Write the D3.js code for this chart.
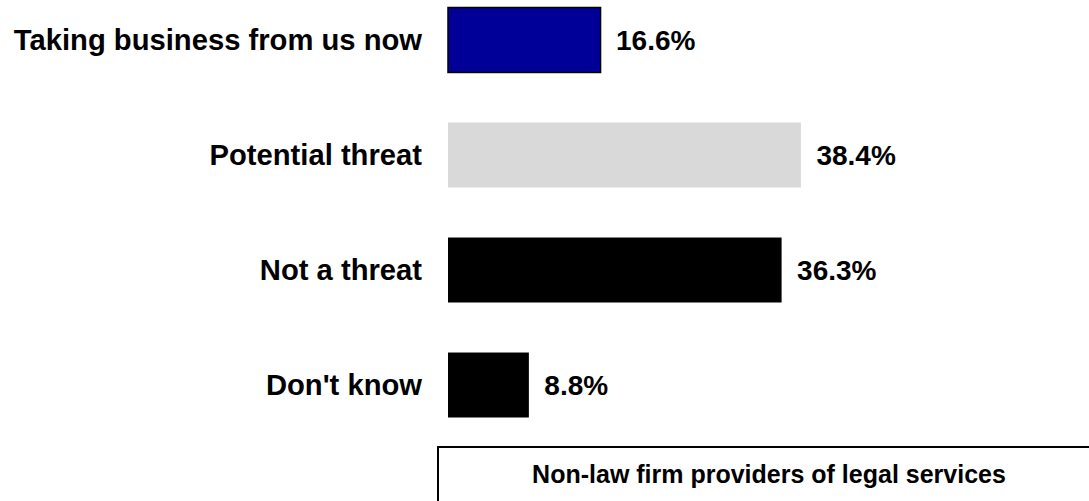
<!DOCTYPE html>
<html>
<head>
<meta charset="utf-8">
<script src="https://cdn.jsdelivr.net/npm/d3@7"></script>
<style>
  html, body { margin: 0; padding: 0; background: #ffffff; }
  svg { display: block; font-family: "Liberation Sans", Arial, Helvetica, sans-serif; }
</style>
</head>
<body>
<svg id="chart" width="1089" height="501"></svg>
<script>
// Survey responses: how firms see non-law firm providers of legal services
const categories = ["Taking business from us now", "Potential threat", "Not a threat", "Don't know"];
const values = [16.6, 38.4, 36.3, 8.8];
const barColors = ["#000099", "#d9d9d9", "#000000", "#000000"];
const valueLabels = ["16.6%", "38.4%", "36.3%", "8.8%"];
const groupTitle = "Non-law firm providers of legal services";

const svg = d3.select("#chart");

// Horizontal value scale (percent) and vertical category bands
const x = d3.scaleLinear().domain([0, 40]).range([448, 448 + 40 * 9.19]);
const y = d3.scaleBand()
  .domain(categories)
  .range([7.5, 417.5])
  .paddingInner(0.435)
  .paddingOuter(0);

const rows = categories.map((c, i) => ({ cat: c, v: values[i], color: barColors[i], label: valueLabels[i] }));

// Bars
svg.append("g")
  .selectAll("rect")
  .data(rows)
  .join("rect")
  .attr("x", x(0))
  .attr("y", d => y(d.cat))
  .attr("width", d => x(d.v) - x(0))
  .attr("height", y.bandwidth())
  .attr("fill", d => d.color)
  .attr("stroke", (d, i) => i === 0 ? "#000000" : "none")
  .attr("stroke-width", 1.5);

// Category labels, right-aligned to the left of the bars
svg.append("g")
  .selectAll("text")
  .data(rows)
  .join("text")
  .attr("x", 422)
  .attr("y", d => y(d.cat) + y.bandwidth() / 2)
  .attr("dy", "0.33em")
  .attr("text-anchor", "end")
  .attr("font-size", 29.2)
  .attr("font-weight", "bold")
  .attr("fill", "#000000")
  .text(d => d.cat);

// Value labels at the end of each bar
svg.append("g")
  .selectAll("text")
  .data(rows)
  .join("text")
  .attr("x", d => x(d.v) + 15.5)
  .attr("y", d => y(d.cat) + y.bandwidth() / 2)
  .attr("dy", "0.34em")
  .attr("text-anchor", "start")
  .attr("font-size", 28)
  .attr("font-weight", "bold")
  .attr("fill", "#000000")
  .text(d => d.label);

// Group title box along the bottom
const box = svg.append("g");
box.append("rect")
  .attr("x", 438)
  .attr("y", 447)
  .attr("width", 700)
  .attr("height", 80)
  .attr("fill", "#ffffff")
  .attr("stroke", "#000000")
  .attr("stroke-width", 2);
box.append("text")
  .attr("x", 769)
  .attr("y", 483)
  .attr("text-anchor", "middle")
  .attr("font-size", 25)
  .attr("font-weight", "bold")
  .attr("fill", "#000000")
  .text(groupTitle);
</script>
</body>
</html>
